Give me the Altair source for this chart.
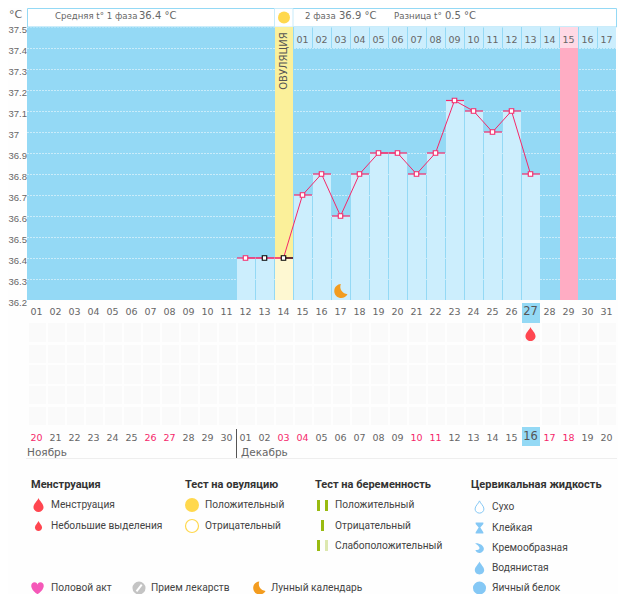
import altair as alt
import pandas as pd

TEMP_DAYS = [12, 13, 14, 15, 16, 17, 18, 19, 20, 21, 22, 23, 24, 25, 26, 27]
TEMPS = [36.4, 36.4, 36.4, 36.7, 36.8, 36.6, 36.8, 36.9, 36.9, 36.8, 36.9, 37.15, 37.1, 37.0, 37.1, 36.8]
Y_TICKS = [36.2, 36.3, 36.4, 36.5, 36.6, 36.7, 36.8, 36.9, 37.0, 37.1, 37.2, 37.3, 37.4, 37.5]
CYCLE_DAYS = list(range(1, 32))
CYCLE_LABELS = [f"{d:02d}" for d in CYCLE_DAYS]
DATE_LABELS = ["20", "21", "22", "23", "24", "25", "26", "27", "28", "29", "30",
               "01", "02", "03", "04", "05", "06", "07", "08", "09", "10", "11",
               "12", "13", "14", "15", "16", "17", "18", "19", "20"]
WEEKEND_COLS = [1, 7, 8, 14, 15, 21, 22, 28, 29]
PHASE2_LABELS = ["01", "02", "03", "04", "05", "06", "07", "08", "09", "10", "11",
                 "12", "13", "14", "15", "16", "17"]
PHASE2_DAYS = list(range(15, 32))
BLACK_MARK_DAYS = [13, 14]
OVULATION_DAY = 14
PERIOD_DAY = 29
MOON_DAY = 17
TODAY_DAY = 27
LEG_MENS = ["Менструация", "Небольшие выделения"]
LEG_OVU = ["Положительный", "Отрицательный"]
LEG_PREG = ["Положительный", "Отрицательный", "Слабоположительный"]
LEG_CERV = ["Сухо", "Клейкая", "Кремообразная", "Водянистая", "Яичный белок"]
LEG_MISC = ["Половой акт", "Прием лекарств", "Лунный календарь"]
TITLES = ["Менструация", "Тест на овуляцию", "Тест на беременность", "Цервикальная жидкость"]

OX, OY = 27, 27
STEP = 19.0
PX = 1 / STEP
BLUE = "#94D9F5"
LIGHT = "#CCEEFD"
PINK = "#F5286A"
GREY = "#666666"
DARK = "#444444"
NUM_FONT = "DejaVu Sans"
LEG_FONT = "Roboto"
LEG_SIZE = 10.2
BOTTOM_Y = 588

XS = alt.Scale(domain=[0.5, 31.5], nice=False, zero=False)
YS = alt.Scale(domain=[36.2, 37.5], nice=False, zero=False)
YAXIS = alt.Axis(
    values=Y_TICKS, format="~g", domain=False, ticks=False, labelAlign="left", title=None,
    labelPadding=19, labelOffset=2, labelFontSize=9.5, labelFont="Liberation Sans", labelColor=GREY,
    labelOverlap=False, labelFlush=False, labelBound=False,
    grid=True, gridColor="white", gridDash=[1, 2], gridOpacity=1, gridWidth=1, labelBaseline="middle")

DROP = "M0,-1 C0.15,-0.55 0.72,-0.2 0.72,0.32 A0.72,0.68 0 1 1 -0.72,0.32 C-0.72,-0.2 -0.15,-0.55 0,-1 Z"
MOON = "M0.05,-1 A1,1 0 1 0 1,0.45 A1.05,1.05 0 0 1 0.05,-1 Z"
HEART = "M0,0.95 C-1.35,0.05 -1.05,-0.9 -0.45,-0.9 C-0.2,-0.9 0,-0.7 0,-0.5 C0,-0.7 0.2,-0.9 0.45,-0.9 C1.05,-0.9 1.35,0.05 0,0.95 Z"
SLASH = "M-0.38,0.5 L0.42,-0.5"
GLASS = "M-0.7,-1 L0.7,-1 L0.7,-0.75 L0.15,-0.1 L0.7,0.75 L0.7,1 L-0.7,1 L-0.7,0.75 L-0.15,-0.1 L-0.7,-0.75 Z"
CREAM = "M-0.8,-0.85 C-0.1,-0.95 0.8,-0.5 0.8,0.2 A0.8,0.8 0 0 1 -0.75,0.35 C-0.2,0.45 0.2,0.1 -0.1,-0.25 C-0.3,-0.5 -0.6,-0.7 -0.8,-0.85 Z"


def text(label, x, y, size=LEG_SIZE, color=DARK, font=LEG_FONT, bold=False, align="left", angle=None):
    kw = dict(fontSize=size, color=color, font=font, align=align, baseline="middle",
              fontWeight="bold" if bold else "normal")
    if angle is not None:
        kw["angle"] = angle
    return alt.Chart(pd.DataFrame({"t": [label]})).mark_text(**kw).encode(
        x=alt.value(x - OX), y=alt.value(y - OY), text="t:N")


def symbol(shape, x, y, size, fill=None, stroke=None, sw=1.0):
    kw = dict(shape=shape, size=size, opacity=1, strokeWidth=sw if stroke else 0)
    kw["filled"] = fill is not None
    if fill is not None:
        kw["fill"] = fill
    if stroke is not None:
        kw["stroke"] = stroke
    return alt.Chart(pd.DataFrame({"a": [0]})).mark_point(**kw).encode(
        x=alt.value(x - OX), y=alt.value(y - OY))


def box(x0, x1, y0, y1, fill, stroke=None):
    kw = dict(fill=fill)
    if stroke:
        kw.update(stroke=stroke, strokeWidth=1)
    return alt.Chart(pd.DataFrame({"a": [0]})).mark_rect(**kw).encode(
        x=alt.value(x0 - OX), x2=alt.value(x1 - OX), y=alt.value(y0 - OY), y2=alt.value(y1 - OY))


def cols(days, y0, y1, color, left=PX, right=0.0):
    df = pd.DataFrame({"a": [d - 0.5 + left for d in days], "b": [d + 0.5 - right for d in days]})
    return alt.Chart(df).mark_rect(color=color).encode(
        x=alt.X("a:Q", scale=XS, axis=None), x2="b:Q",
        y=alt.value(y0 - OY), y2=alt.value(y1 - OY))


def col_labels(labels, days, y, color=GREY, size=9.5):
    df = pd.DataFrame({"t": labels, "d": days})
    return alt.Chart(df).mark_text(fontSize=size, color=color, font=NUM_FONT, baseline="middle").encode(
        x=alt.X("d:Q", scale=XS, axis=None), y=alt.value(y - OY), text="t:N")


temp = pd.DataFrame({"d": TEMP_DAYS, "v": TEMPS})
temp["a"] = temp["d"] - 0.5 + PX
temp["b"] = temp["d"] + 0.5
x_d = alt.X("d:Q", scale=XS, axis=None)
y_v = alt.Y("v:Q", scale=YS, axis=YAXIS)

layers = []
# header
layers.append(box(27.5, 616.5, 8.5, 27, "white", BLUE))
layers.append(box(274.5, 293, 8.5, 27, "white", "#C8EBFA"))
# ovulation & period columns
layers.append(cols([OVULATION_DAY], 27, 300, "#FBF09A"))
layers.append(cols([PERIOD_DAY], 48, 300, "#FFACC3"))
# second phase day row
layers.append(cols([d for d in PHASE2_DAYS if d != PERIOD_DAY], 27, 48, LIGHT))
layers.append(cols([PERIOD_DAY], 27, 48, "#FFD9E5"))
# temperature bars
bars = temp[temp["d"] != OVULATION_DAY]
layers.append(alt.Chart(bars).mark_rect(color=LIGHT).encode(
    x=alt.X("a:Q", scale=XS, axis=None), x2="b:Q", y=y_v, y2=alt.datum(36.2)))
layers.append(alt.Chart(temp[temp["d"] == OVULATION_DAY]).mark_rect(color="#FEF8D2").encode(
    x=alt.X("a:Q", scale=XS, axis=None), x2="b:Q", y=y_v, y2=alt.datum(36.2)))
# level marks
layers.append(alt.Chart(temp).mark_rule(color=PINK, strokeWidth=1.2).encode(
    x=alt.X("a:Q", scale=XS, axis=None), x2="b:Q", y=y_v))
half = temp[temp["d"] == OVULATION_DAY]
layers.append(alt.Chart(half).mark_rule(color="black", strokeWidth=1.2).encode(
    x=x_d, x2="b:Q", y=y_v))
# line + markers
layers.append(alt.Chart(temp).mark_line(color=PINK, strokeWidth=1).encode(x=x_d, y=y_v))
is_black = temp["d"].isin(BLACK_MARK_DAYS)
layers.append(alt.Chart(temp[~is_black]).mark_point(
    shape="square", filled=True, fill="white", stroke=PINK, strokeWidth=1.1, size=20, opacity=1
).encode(x=x_d, y=y_v))
layers.append(alt.Chart(temp[is_black]).mark_point(
    shape="square", filled=True, fill="white", stroke="black", strokeWidth=1.1, size=20, opacity=1
).encode(x=x_d, y=y_v))
# moon in the chart
layers.append(alt.Chart(pd.DataFrame({"d": [MOON_DAY]})).mark_point(
    shape=MOON, filled=True, fill="#F39C1F", size=196, opacity=1, strokeWidth=0
).encode(x=x_d, y=alt.value(291 - OY)))

# header text
layers += [
    text("Средняя t° 1 фаза", 55, 16, 8.6, GREY, NUM_FONT),
    text("36.4 °C", 139, 15.5, 10, GREY, NUM_FONT),
    text("2 фаза", 305, 16, 8.6, GREY, NUM_FONT),
    text("36.9 °C", 339, 15.5, 10, GREY, NUM_FONT),
    text("Разница t°", 394, 16, 8.6, GREY, NUM_FONT),
    text("0.5 °C", 445, 15.5, 10, GREY, NUM_FONT),
    text("°C", 9, 15, 11, GREY, NUM_FONT),
    symbol("circle", 284, 17.5, 144, "#FFD84D"),
    text("ОВУЛЯЦИЯ", 284, 61, 10, "#555555", NUM_FONT, align="center", angle=270),
]
layers.append(col_labels(PHASE2_LABELS, PHASE2_DAYS, 39.5))

# day labels under the plot
layers.append(cols([TODAY_DAY], 303, 323, BLUE))
layers.append(col_labels([c for c, d in zip(CYCLE_LABELS, CYCLE_DAYS) if d != TODAY_DAY],
                         [d for d in CYCLE_DAYS if d != TODAY_DAY], 312))
layers.append(col_labels([CYCLE_LABELS[TODAY_DAY - 1]], [TODAY_DAY], 312, "#555555", 11.5))

# faint event grid
for y0, y1 in [(323, 342), (345, 363), (365, 384), (386, 404), (407, 425)]:
    layers.append(cols(CYCLE_DAYS, y0, y1, "#FAFAFA", left=2 * PX, right=0.0))
layers.append(alt.Chart(pd.DataFrame({"d": [TODAY_DAY]})).mark_point(
    shape=DROP, filled=True, fill="#FF4650", size=196, opacity=1, strokeWidth=0
).encode(x=x_d, y=alt.value(334 - OY)))

# date row
layers.append(cols([TODAY_DAY], 427, 446, BLUE))
plain = [d for d in CYCLE_DAYS if d not in WEEKEND_COLS and d != TODAY_DAY]
layers.append(col_labels([DATE_LABELS[d - 1] for d in plain], plain, 437.5))
layers.append(col_labels([DATE_LABELS[d - 1] for d in WEEKEND_COLS], WEEKEND_COLS, 437.5, PINK))
layers.append(col_labels([DATE_LABELS[TODAY_DAY - 1]], [TODAY_DAY], 436.5, "#555555", 11.5))
layers += [
    text("Ноябрь", 27, 453, 10.5, GREY, NUM_FONT),
    text("Декабрь", 241, 453, 10.5, GREY, NUM_FONT),
    box(236, 237, 429, 458, "#555555"),
    box(26, 617, 458, 459, "#EEEEEE"),
]

# legend titles
for t, x in zip(TITLES, [31, 185, 315, 471]):
    layers.append(text(t, x, 485, 11, "#333333", LEG_FONT, True))
# menstruation
for t, y in zip(LEG_MENS, [505, 526]):
    layers.append(text(t, 51, y))
layers.append(symbol(DROP, 38.5, 505, 196, "#FF4650"))
layers.append(symbol(DROP, 38.5, 526, 100, "#FF4650"))
# ovulation test
for t, y in zip(LEG_OVU, [505, 526]):
    layers.append(text(t, 205, y))
layers.append(symbol("circle", 192, 505, 196, "#FFD84D"))
layers.append(symbol("circle", 192, 526, 169, "white", "#FFD84D", 1.2))
# pregnancy test
for t, y in zip(LEG_PREG, [505, 526, 546]):
    layers.append(text(t, 335, y))
G, W = "#99BB11", "#DDE8B0"
layers += [
    box(317, 320, 500, 511, G), box(325, 328, 500, 511, G),
    box(321, 324, 520, 531, G),
    box(317, 320, 540, 551, G), box(325, 328, 540, 551, W),
]
# cervical fluid
C = "#85C8F5"
for t, y in zip(LEG_CERV, [507, 528, 548, 568, BOTTOM_Y]):
    layers.append(text(t, 492, y))
layers += [
    symbol(DROP, 479.5, 507, 150, "white", C, 1),
    symbol(GLASS, 479.5, 528, 121, C),
    symbol(CREAM, 479.5, 548, 121, C),
    symbol(DROP, 479.5, 568, 170, C),
    symbol("circle", 479.5, BOTTOM_Y, 170, C),
]
# misc
for t, x in zip(LEG_MISC, [51, 151, 271]):
    layers.append(text(t, x, BOTTOM_Y))
layers += [
    symbol(HEART, 37.5, BOTTOM_Y, 170, "#F558B8"),
    symbol("circle", 139, BOTTOM_Y, 170, "#C4C4C4"),
    symbol(SLASH, 139, BOTTOM_Y, 170, None, "white", 2),
    symbol(MOON, 259, BOTTOM_Y, 170, "#F39C1F"),
]

chart = alt.layer(*layers).properties(
    width=589, height=273,
    padding={"left": 19, "top": 19, "right": 2, "bottom": 294},
    autosize=alt.AutoSizeParams(type="none"),
    background="#FEFEFE",
).configure_view(fill=BLUE, stroke=None)

chart.save("out.html", embed_options={"renderer": "svg", "actions": False})
